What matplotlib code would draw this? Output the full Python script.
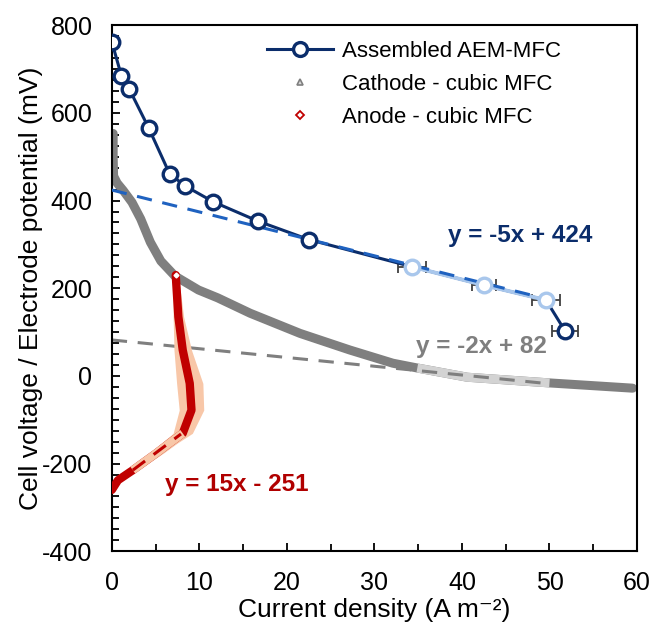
import matplotlib
matplotlib.use("Agg")
import matplotlib.pyplot as plt
from matplotlib.lines import Line2D
from matplotlib.ticker import MultipleLocator
import numpy as np

plt.rcParams['font.family'] = ['Liberation Sans', 'DejaVu Sans']
plt.rcParams['axes.unicode_minus'] = False

# ---- data ----
mfc_x = [0.0, 1.1, 2.0, 4.2, 6.6, 8.4, 11.6, 16.7, 22.5, 34.3, 42.5, 49.6, 51.8]
mfc_y = [762, 684, 654, 566, 461, 433, 397, 353, 311, 249, 207, 173, 102]
mfc_xerr = [0, 0, 0, 0, 0, 0, 0, 0, 0, 1.6, 1.4, 1.6, 1.5]
mfc_fit_idx = [9, 10, 11]

cat_x = [0.15, 0.15, 0.2, 0.6, 1.3, 2.3, 3.3, 4.4, 5.6, 7.2, 9.9, 12.1, 15.8, 21.5,
         27.2, 32.1, 34.9, 40.6, 50.0, 59.5]
cat_y = [553, 500, 456, 440, 423, 396, 358, 305, 262, 228, 196, 178, 143, 97,
         59, 29, 18, -3, -16, -28]
cat_fit_range = (34.9, 50.0)

an_x = [7.3, 7.6, 8.1, 8.9, 9.1, 8.1, 6.6, 5.1, 2.4, 0.7, 0.0]
an_y = [230, 135, 59, -17, -78, -131, -153, -176, -215, -238, -260]
an_err = [0.3, 0.6, 1.0, 1.5, 1.4, 1.1, 0.9, 0.8, 0.6, 0.4, 0.2]
an_fit_range = (-215, -131)

fits = {
    'mfc': (-5, 424, 0, 50),
    'cat': (-2, 82, 0, 50),
    'an': (15, -251, 2.4, 7.9),
}

navy = '#0b2d6b'
dblue = '#1f62c0'
lblue = '#a9c7ec'
grey = '#7f7f7f'
lgrey = '#d3d3d3'
red = '#c00000'
peach = '#f8c7a8'

fig = plt.figure(figsize=(6.54, 6.3), dpi=100)
ax = fig.add_axes([0.171, 0.125, 0.803, 0.835])

dash = (0, (5, 3.5))

# cathode
ax.plot(cat_x, cat_y, color=grey, lw=6.5, solid_capstyle='round', solid_joinstyle='round', zorder=2)
cx = np.array(cat_x); cy = np.array(cat_y)
m = (cx >= cat_fit_range[0]) & (cx <= cat_fit_range[1])
ax.plot(cx[m], cy[m], color=lgrey, lw=6.5, solid_capstyle='butt', zorder=2.1)
s, b, x0, x1 = fits['cat']
ax.plot([x0, x1], [s * x0 + b, s * x1 + b], color=grey, lw=2.2, ls=dash, zorder=2.2)

# anode
ax.fill_betweenx(an_y, np.array(an_x) - np.array(an_err), np.array(an_x) + np.array(an_err),
                 color=peach, lw=0, zorder=3)
ax.plot(an_x, an_y, color=red, lw=6, solid_capstyle='round', solid_joinstyle='round', zorder=3.1)
ay = np.array(an_y); axx = np.array(an_x)
m = (ay >= an_fit_range[0]) & (ay <= an_fit_range[1])
ax.plot(axx[m], ay[m], color=peach, lw=6, solid_capstyle='butt', zorder=3.2)
s, b, x0, x1 = fits['an']
ax.plot([x0, x1], [s * x0 + b, s * x1 + b], color=red, lw=2.2, ls=dash, zorder=3.3)
ax.plot(an_x[:1], an_y[:1], 'D', ms=2.5, mfc='white', mec='white', zorder=3.4)

# assembled MFC
ax.errorbar(mfc_x, mfc_y, xerr=mfc_xerr, fmt='none', ecolor='#404040', elinewidth=1.3,
            capsize=4.5, capthick=1.3, zorder=4)
ax.plot(mfc_x, mfc_y, color=navy, lw=2.2, zorder=4.1)
fx = [mfc_x[i] for i in mfc_fit_idx]; fy = [mfc_y[i] for i in mfc_fit_idx]
ax.plot(fx, fy, color=lblue, lw=2.8, zorder=4.2)
s, b, x0, x1 = fits['mfc']
ax.plot([x0, x1], [s * x0 + b, s * x1 + b], color=dblue, lw=2.2, ls=dash, zorder=4.3)
nf = [i for i in range(len(mfc_x)) if i not in mfc_fit_idx]
ax.plot([mfc_x[i] for i in nf], [mfc_y[i] for i in nf], 'o', ms=10.5, mfc='white',
        mec=navy, mew=2.4, zorder=5)
ax.plot(fx, fy, 'o', ms=10.5, mfc='white', mec=lblue, mew=2.4, zorder=5)

# equations
ax.text(46.6, 321, 'y = -5x + 424', color=navy, fontsize=17.5, fontweight='bold',
        ha='center', va='center', zorder=6)
ax.text(42.2, 66, 'y = -2x + 82', color=grey, fontsize=17.5, fontweight='bold',
        ha='center', va='center', zorder=6)
ax.text(14.3, -247, 'y = 15x - 251', color='#b00000', fontsize=17.5, fontweight='bold',
        ha='center', va='center', zorder=6)

ax.set_xlim(0, 60)
ax.set_ylim(-400, 800)
ax.xaxis.set_major_locator(MultipleLocator(10))
ax.xaxis.set_minor_locator(MultipleLocator(5))
ax.yaxis.set_major_locator(MultipleLocator(200))
ax.yaxis.set_minor_locator(MultipleLocator(25))
ax.tick_params(which='both', direction='in', top=False, right=False, width=1.3,
               labelsize=18, colors='black')
ax.tick_params(which='major', length=6)
ax.tick_params(which='minor', length=5)
ax.tick_params(axis='y', which='major', pad=14)
ax.tick_params(axis='x', which='major', pad=14)
for sp in ax.spines.values():
    sp.set_linewidth(1.5)

ax.set_xlabel('Current density (A m⁻²)', fontsize=19, labelpad=2.5)
ax.set_ylabel('Cell voltage / Electrode potential (mV)', fontsize=19, labelpad=-1)

handles = [
    Line2D([], [], color=navy, lw=2.2, marker='o', ms=10, mfc='white', mec=navy, mew=2.4),
    Line2D([], [], ls='none', marker='^', ms=5, mfc='#d9d9d9', mec=grey, mew=1.2),
    Line2D([], [], ls='none', marker='D', ms=4, mfc='white', mec=red, mew=1.3),
]
labels = ['Assembled AEM-MFC', 'Cathode - cubic MFC', 'Anode - cubic MFC']
ax.legend(handles, labels, loc='upper left', bbox_to_anchor=(0.265, 1.0), frameon=False,
          fontsize=16, handlelength=3.0, handletextpad=0.4, labelspacing=0.55,
          borderaxespad=0.3)

fig.savefig('out.png', dpi=100)
